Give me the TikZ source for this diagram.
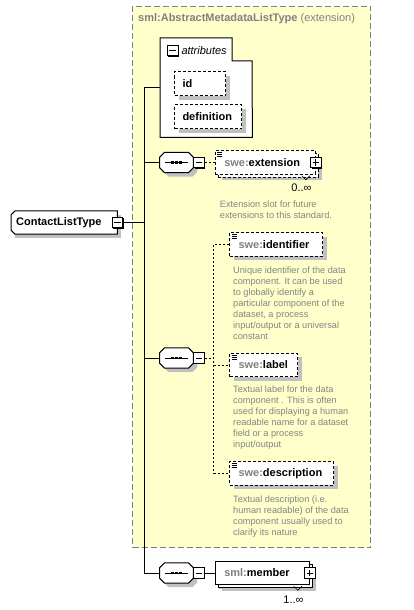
\documentclass[tikz,border=0pt]{standalone}
\usepackage{fontspec}
\setmainfont{Liberation Sans}
\definecolor{xsdyellow}{RGB}{255,255,204}
\definecolor{xsdgray}{RGB}{128,128,128}
\definecolor{docgray}{RGB}{128,134,128}
\definecolor{shadowgray}{RGB}{192,192,192}
\usetikzlibrary{positioning, calc, shadows}
\tikzset{
  shadowed/.style={drop shadow={shadow xshift=4pt, shadow yshift=-4pt, fill=shadowgray, opacity=1}},
  stacked/.style={drop shadow={shadow xshift=7pt, shadow yshift=-6pt, fill=shadowgray, opacity=1}, copy shadow={shadow xshift=3pt, shadow yshift=-3pt, draw=black, fill=white, opacity=1}},
  extbase/.style={rectangle, draw=xsdgray, dash pattern=on 6pt off 3pt, fill=xsdyellow, line width=1pt, inner sep=0pt},
  basetitle/.style={font=\fontsize{11}{13}\selectfont, text=xsdgray, inner sep=0pt},
  typenode/.style={rectangle, fill=white, minimum height=23pt, text width=96pt, align=left, inner xsep=5pt, inner ysep=0pt, font=\fontsize{11}{13}\selectfont\bfseries, shadowed},
  cutpath/.style={insert path={($(#1.north west)+(4,0)$) -- (#1.north east) -- (#1.south east) -- ($(#1.south west)+(4,0)$) -- ($(#1.south west)+(0,-4)$) -- ($(#1.north west)+(0,4)$) -- cycle}},
  compositor/.style={rectangle, minimum width=33.5pt, minimum height=20pt, inner sep=0pt},
  octpath/.style={insert path={($(#1.north west)+(5,0)$) -- ($(#1.north east)+(-5,0)$) -- ($(#1.north east)+(0,5)$) -- ($(#1.south east)+(0,-5)$) -- ($(#1.south east)+(-5,0)$) -- ($(#1.south west)+(5,0)$) -- ($(#1.south west)+(0,-5)$) -- ($(#1.north west)+(0,5)$) -- cycle}},
  minusbox/.style={rectangle, draw=black, fill=white, line width=0.8pt, minimum size=10.5pt, inner sep=0pt, drop shadow={shadow xshift=1pt, shadow yshift=-1pt, fill=black, opacity=1},
    path picture={\draw[line width=0.8pt] ([xshift=2pt]path picture bounding box.west) -- ([xshift=-2pt]path picture bounding box.east);}},
  plusbox/.style={minusbox,
    path picture={\draw[line width=0.8pt] ([xshift=2pt]path picture bounding box.west) -- ([xshift=-2pt]path picture bounding box.east);
      \draw[line width=0.8pt] ([yshift=2pt]path picture bounding box.south) -- ([yshift=-2pt]path picture bounding box.north);}},
  tabbox/.style={draw=black, fill=white, line width=1pt},
  attribute/.style={rectangle, draw=black, dash pattern=on 3pt off 2pt, fill=white, line width=1pt, minimum height=24pt, inner xsep=8pt, inner ysep=0pt, align=left, font=\fontsize{11}{13}\selectfont\bfseries, shadowed},
  element/.style={rectangle, draw=black, dash pattern=on 3pt off 2pt, fill=white, line width=1pt, minimum height=23.5pt, inner xsep=9pt, inner ysep=0pt, align=left, font=\fontsize{11}{13}\selectfont\bfseries, shadowed},
  docmark/.style={path picture={\foreach \dy in {2,4,6} \draw[line width=0.7pt, solid] ([shift={(2,\dy)}]path picture bounding box.north west) -- ++(5,0);}},
  doc/.style={font=\fontsize{9.2}{11}\selectfont, text=docgray, align=left, inner sep=0pt},
  mult/.style={font=\fontsize{11}{13}\selectfont, inner sep=0pt},
  wire/.style={line width=1pt},
  choicewire/.style={line width=1pt, dash pattern=on 2pt off 2pt}
}

\begin{document}
\begin{tikzpicture}[x=1pt, y=-1pt]
  \useasboundingbox (0,0) rectangle (413,610);

  % Base type region
  \node (base) [extbase, minimum width=238pt, minimum height=541pt, anchor=north west] at (132,6) {};
  \node (basetitle) [basetitle, anchor=west] at (138,19) {\textbf{sml:AbstractMetadataListType} (extension)};

  % Attributes
  \node (attr) [minimum width=92pt, minimum height=99pt, inner sep=0pt, anchor=north west] at (160,38) {};
  \draw [tabbox] (attr.south west) -- (attr.north west) -- ++(72,0) -- ++(0,23) -- ++(20,0) -- (attr.south east) -- cycle;
  \node (attrminus) [minusbox, anchor=west] at ($(attr.north west)+(7,12.5)$) {};
  \node (attrtitle) [right=3pt of attrminus, inner sep=0pt, font=\fontsize{11}{13}\selectfont\itshape] {attributes};
  \node (id) [attribute, text width=35pt, anchor=north west] at (174,71) {id};
  \node (definition) [attribute, text width=51pt, below=8pt of id.south west, anchor=north west] {definition};

  % Complex type
  \node (clt) [typenode, anchor=west] at (11,222.5) {ContactListType};
  \draw [line width=1pt, cutpath=clt];
  \node (cltminus) [minusbox] at (clt.east) {};

  % Sequence compositors
  \node (seq1) [compositor] at (176.5,162.5) {};
  \node (seq2) [compositor] at (176.5,358) {};
  \node (seq3) [compositor] at (176.5,573) {};
  \foreach \s in {seq1, seq2, seq3} {
    \fill [shadowgray, transform canvas={shift={(4pt,-4pt)}}, octpath=\s];
    \draw [tabbox, octpath=\s];
    \draw [line width=1pt] ($(\s.center)+(-11.5,0)$) -- ++(23,0);
    \foreach \dx in {-4,0,4} \fill ($(\s.center)+(\dx-1.25,-1.25)$) rectangle ++(2.5,2.5);
  }
  \node (seq1minus) [minusbox, right=0pt of seq1] {};
  \node (seq2minus) [minusbox, right=0pt of seq2] {};
  \node (seq3minus) [minusbox, right=0pt of seq3] {};

  % Extension
  \node (ext) [element, stacked, docmark, text width=82pt, right=10pt of seq1minus] {{\color{xsdgray}swe:}extension};
  \node (extplus) [plusbox] at (ext.east) {};
  \draw [line width=0.7pt] ($(ext.south east)+(-14,1)$) -- ++(4,4) -- ++(4,-4);
  \node (extmult) [mult, anchor=north east] at ($(ext.south east)+(-4,9)$) {0..∞};
  \node (extdoc) [doc, anchor=north west] at ($(ext.south west)+(5,26)$) {Extension slot for future\\extensions to this standard.};

  % Identifier, label, description
  \coordinate (fork) at ($(seq2minus.east)+(9,0)$);
  \node (identifier) [element, docmark, text width=75pt, anchor=west] at (229,244.5) {{\color{xsdgray}swe:}identifier};
  \node (identifierdoc) [doc, below right=9.5pt and 4pt of identifier.south west] {Unique identifier of the data\\component. It can be used\\to globally identify a\\particular component of the\\dataset, a process\\input/output or a universal\\constant};
  \node (label) [element, docmark, text width=50pt, anchor=west] at (229,365) {{\color{xsdgray}swe:}label};
  \node (labeldoc) [doc, below right=8.5pt and 4pt of label.south west] {Textual label for the data\\component . This is often\\used for displaying a human\\readable name for a dataset\\field or a process\\input/output};
  \node (description) [element, docmark, text width=86pt, anchor=west] at (229,473.5) {{\color{xsdgray}swe:}description};
  \node (descriptiondoc) [doc, below right=9.5pt and 4pt of description.south west] {Textual description (i.e.\\human readable) of the data\\component usually used to\\clarify its nature};

  % Member
  \node (member) [element, solid, stacked, text width=76pt, right=10pt of seq3minus] {{\color{xsdgray}sml:}member};
  \node (memberplus) [plusbox] at (member.east) {};
  \draw [line width=0.7pt] ($(member.south east)+(-16,1)$) -- ++(4,4) -- ++(4,-4);
  \node (membermult) [mult, anchor=north east] at ($(member.south east)+(-6,10)$) {1..∞};

  % Connections
  \coordinate (bus) at ($(attr.west)+(-16,0)$);
  \draw [wire] (attr.west) -- (bus) -- (bus |- seq3) -- (seq3.west);
  \draw [wire] (bus |- seq1) -- (seq1.west);
  \draw [wire] (bus |- seq2) -- (seq2.west);
  \draw [wire] (cltminus.east) -- (bus |- cltminus);
  \draw [choicewire] (seq1minus.east) -- (ext.west);
  \draw [choicewire] (seq2minus.east) -- (fork);
  \draw [choicewire] (identifier.west) -- (fork |- identifier) -- (fork |- description) -- (description.west);
  \draw [choicewire] (fork |- label) -- (label.west);
  \draw [wire] (seq3minus.east) -- (member.west);

\end{tikzpicture}
\end{document}
